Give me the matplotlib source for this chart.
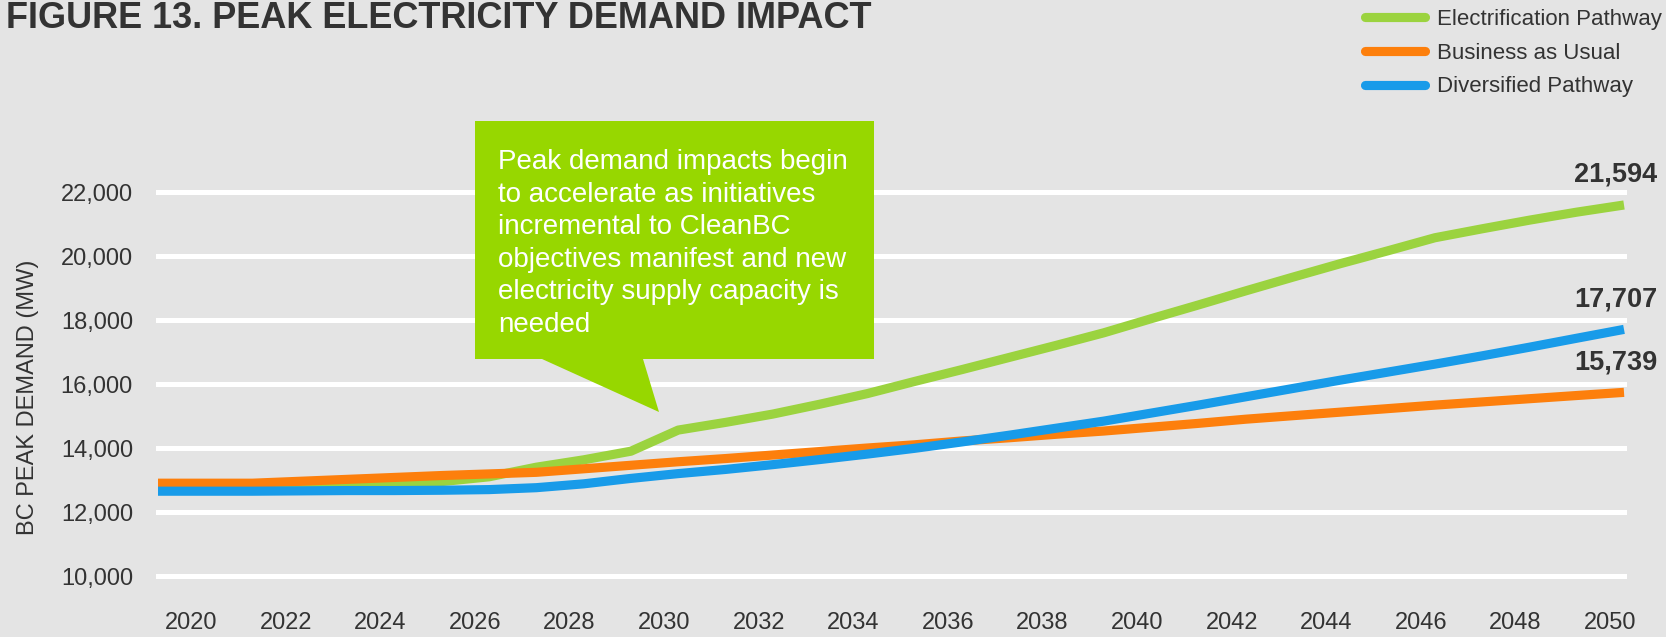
import matplotlib
matplotlib.use('Agg')
import matplotlib.pyplot as plt
from matplotlib.patches import Polygon
from matplotlib.transforms import Affine2D, ScaledTranslation

plt.rcParams['font.family'] = ['Liberation Sans', 'DejaVu Sans']

# data (MW)
years = list(range(2019, 2051))
electrification = [12880, 12880, 12880, 12880, 12890, 12900, 12950, 13100, 13400, 13630,
                   13900, 14560, 14800, 15060, 15370, 15700, 16080, 16450, 16830, 17210,
                   17600, 18040, 18470, 18910, 19340, 19760, 20160, 20570, 20850, 21120,
                   21370, 21594]
business_as_usual = [12900, 12900, 12900, 12960, 13020, 13080, 13140, 13190, 13240, 13350,
                     13460, 13570, 13670, 13780, 13890, 14000, 14100, 14220, 14320, 14430,
                     14530, 14650, 14770, 14900, 15010, 15120, 15230, 15340, 15440, 15540,
                     15640, 15739]
diversified = [12650, 12650, 12650, 12660, 12670, 12670, 12680, 12700, 12760, 12880,
               13050, 13200, 13330, 13480, 13640, 13810, 13990, 14190, 14400, 14620,
               14840, 15090, 15340, 15600, 15860, 16120, 16370, 16620, 16880, 17150,
               17430, 17707]
series_names = ['Electrification Pathway', 'Business as Usual', 'Diversified Pathway']
series_colors = ['#9bd33f', '#fd7f0c', '#189be9']
tick_years = list(range(2020, 2051, 2))
y_ticks = list(range(10000, 22001, 2000))

title = 'FIGURE 13. PEAK ELECTRICITY DEMAND IMPACT'
ylabel = 'BC PEAK DEMAND (MW)'
callout = ('Peak demand impacts begin\nto accelerate as initiatives\n'
           'incremental to CleanBC\nobjectives manifest and new\n'
           'electricity supply capacity is\nneeded')

W, H = 1666, 637
bg = '#e4e4e4'
dark = '#333333'

fig = plt.figure(figsize=(W / 100, H / 100), dpi=100, facecolor=bg)
# pixel coords (origin top-left) -> figure
px = Affine2D().scale(1 / W, -1 / H).translate(0, 1) + fig.transFigure

ax = fig.add_axes([158 / W, 1 - 576 / H, (1624 - 158) / W, 384 / H])
ax.set_facecolor(bg)

for vals, name, col in zip([electrification, business_as_usual, diversified],
                           series_names, series_colors):
    ax.plot(years, vals, color=col, lw=6.6, label=name, clip_on=False,
            solid_capstyle='butt', solid_joinstyle='round')
    ax.annotate(f'{vals[-1]:,}', xy=(years[-1], vals[-1]), xytext=(-8, 30),
                textcoords='offset pixels', ha='center', va='center',
                fontsize=19.5, fontweight='bold', color=dark)

ax.set_xlim(years[0], years[-1])
ax.set_ylim(10000, 22000)
ax.set_yticks(y_ticks)
ax.set_yticklabels([f'{v:,}' for v in y_ticks])
ax.set_xticks(tick_years)
ax.set_xticklabels([str(y) for y in tick_years])
ax.grid(axis='y', color='white', lw=3.6)
ax.grid(axis='x', visible=False)
ax.set_axisbelow(True)
for gl in ax.get_ygridlines():
    gl.set_clip_on(False)
for s in ax.spines.values():
    s.set_visible(False)
ax.tick_params(axis='y', length=0, pad=18, labelsize=17, labelcolor=dark)
ax.tick_params(axis='x', length=0, pad=26, labelsize=17, labelcolor=dark)
shift = ScaledTranslation(-14 / 100, 0, fig.dpi_scale_trans)
for lbl in ax.get_xticklabels():
    lbl.set_transform(lbl.get_transform() + shift)

fig.text(28, 397, ylabel, transform=px, rotation=90, ha='center', va='center',
         fontsize=17, color=dark)
fig.text(6, 18, title, transform=px, ha='left', va='center',
         fontsize=26, fontweight='bold', color=dark)

leg = fig.legend(loc='upper left', bbox_to_anchor=(1365 / W, 1 - 9 / H), frameon=False,
                 fontsize=16, handlelength=2.7, handletextpad=0.55, labelspacing=0.57,
                 borderpad=0, borderaxespad=0, labelcolor=dark)
for h in leg.get_lines():
    h.set_solid_capstyle('round')

# speech-bubble callout
bubble = [(475, 121), (874, 121), (874, 359), (643, 359), (659, 412),
          (542, 359), (475, 359)]
fig.add_artist(Polygon(bubble, closed=True, transform=px, facecolor='#97d700',
                       edgecolor='none'))
fig.text(498, 149, callout, transform=px, ha='left', va='top', fontsize=20,
         color='white', linespacing=1.33)

fig.savefig('out.png', dpi=100, facecolor=bg)
